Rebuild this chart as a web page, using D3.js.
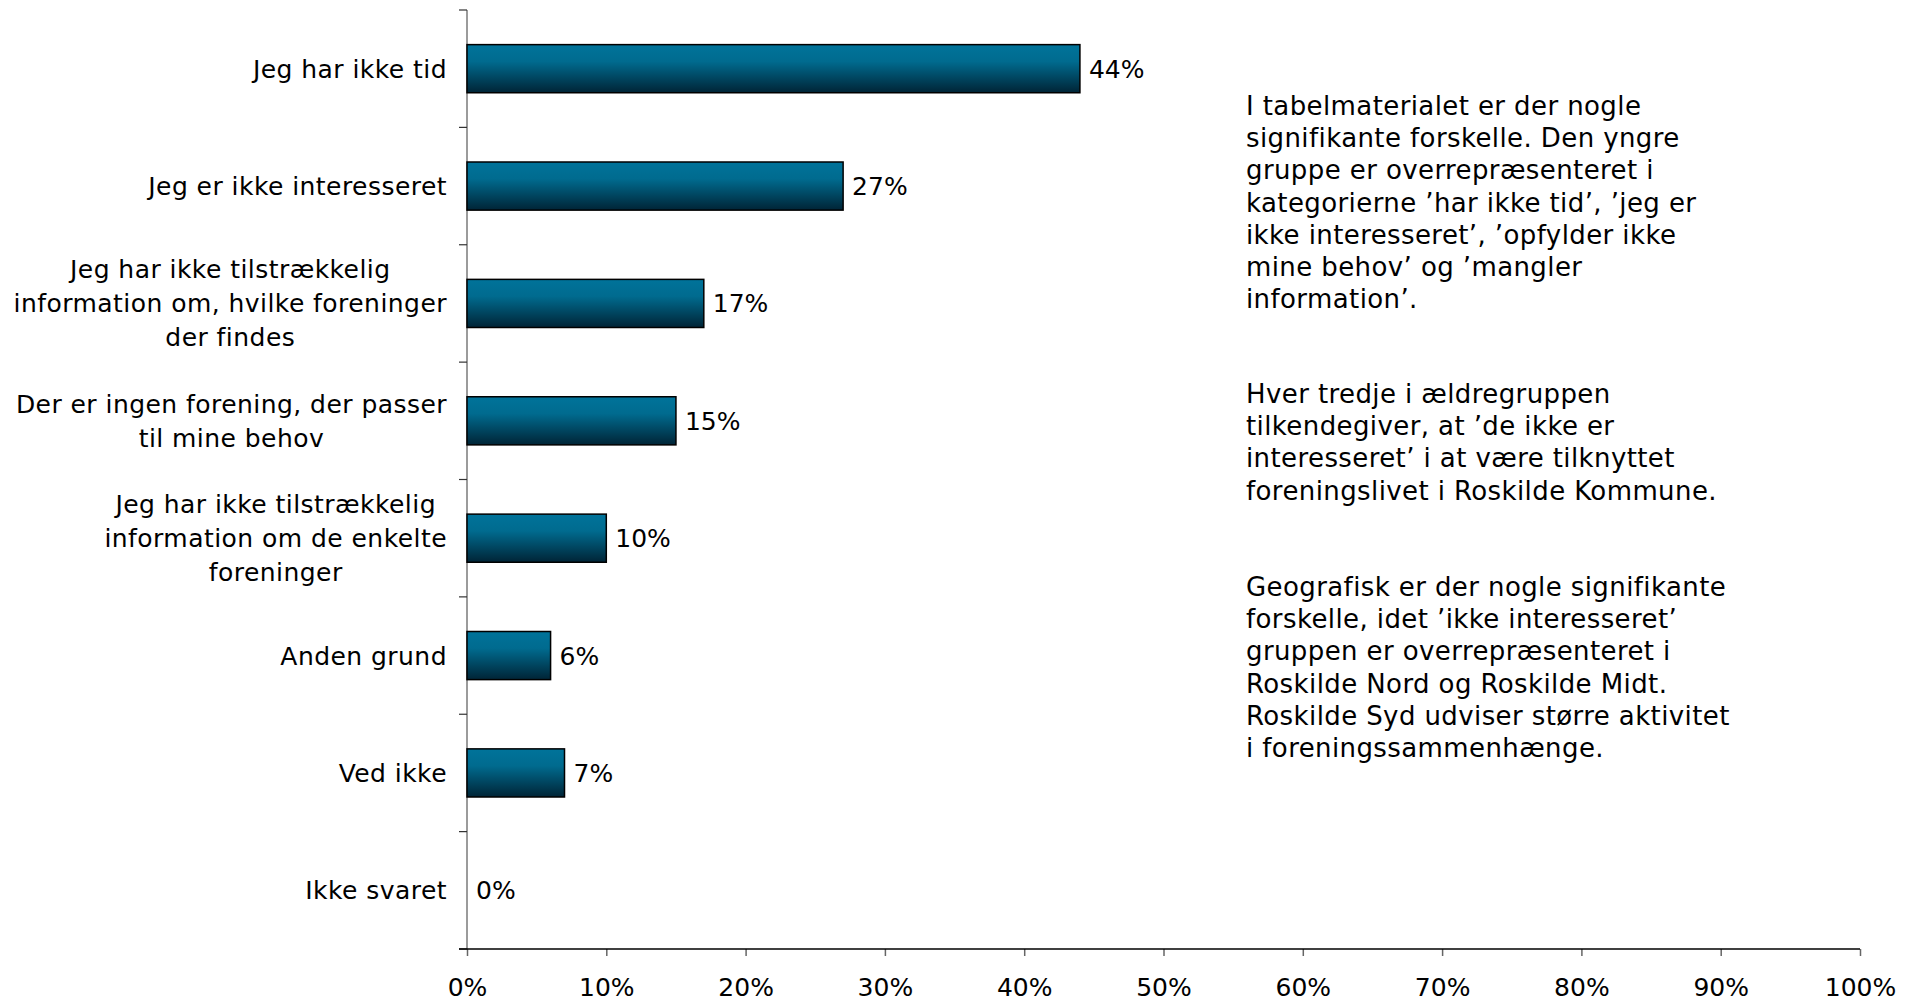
<!DOCTYPE html>
<html lang="da">
<head>
    <meta charset="UTF-8">
    <title>Hvorfor ikke medlem af en forening</title>
    <style type="text/css">
        body {
            margin: 0;
            background: #fff;
        }
        svg {
            display: block;
            font-family: "DejaVu Sans", Verdana, sans-serif;
        }
        .cat-label, .val-label {
            fill: #000;
            font-size: 25px;
        }
        .note {
            fill: #000;
            font-size: 26px;
            letter-spacing: 0.4px;
        }
        .x-axis text {
            font-size: 25px;
            fill: #000;
        }
    </style>
</head>
<body>
    <div id="chart"></div>
    <script src="https://cdnjs.cloudflare.com/ajax/libs/d3/7.8.5/d3.min.js"></script>
    <script type="text/javascript">
        // categories (each label split into its lines) and shares
        var categories = [
            ["Jeg har ikke tid"],
            ["Jeg er ikke interesseret"],
            ["Jeg har ikke tilstrækkelig", "information om, hvilke foreninger", "der findes"],
            ["Der er ingen forening, der passer", "til mine behov"],
            ["Jeg har ikke tilstrækkelig", "information om de enkelte", "foreninger"],
            ["Anden grund"],
            ["Ved ikke"],
            ["Ikke svaret"]
        ];
        var values = [0.44, 0.27, 0.17, 0.15, 0.10, 0.06, 0.07, 0.00];
        var xTicks = [0, 0.1, 0.2, 0.3, 0.4, 0.5, 0.6, 0.7, 0.8, 0.9, 1.0];

        var notes = [
            ["I tabelmaterialet er der nogle",
             "signifikante forskelle. Den yngre",
             "gruppe er overrepræsenteret i",
             "kategorierne ’har ikke tid’, ’jeg er",
             "ikke interesseret’, ’opfylder ikke",
             "mine behov’ og ’mangler",
             "information’."],
            ["Hver tredje i ældregruppen",
             "tilkendegiver, at ’de ikke er",
             "interesseret’ i at være tilknyttet",
             "foreningslivet i Roskilde Kommune."],
            ["Geografisk er der nogle signifikante",
             "forskelle, idet ’ikke interesseret’",
             "gruppen er overrepræsenteret i",
             "Roskilde Nord og Roskilde Midt.",
             "Roskilde Syd udviser større aktivitet",
             "i foreningssammenhænge."]
        ];
        var noteTop = [115, 403, 596];

        var width = 1918,
            height = 1002;
        var plotLeft = 467,
            plotRight = 1860,
            plotTop = 10,
            plotBottom = 949;

        var svg = d3.select("#chart")
            .append("svg")
            .attr("width", width)
            .attr("height", height);

        var defs = svg.append("defs");
        var grad = defs.append("linearGradient")
            .attr("id", "barFill")
            .attr("x1", 0).attr("y1", 0)
            .attr("x2", 0).attr("y2", 1);
        grad.append("stop").attr("offset", "0%").attr("stop-color", "#00739a");
        grad.append("stop").attr("offset", "35%").attr("stop-color", "#006b8f");
        grad.append("stop").attr("offset", "100%").attr("stop-color", "#002436");

        var idx = d3.range(categories.length);

        var x = d3.scaleLinear()
            .domain([0, 1])
            .range([plotLeft, plotRight]);

        var y = d3.scaleBand()
            .domain(idx)
            .range([plotTop, plotBottom])
            .padding(0);

        var step = y.step();
        var barH = step * 0.41;

        // category axis: line plus ticks at band boundaries
        var yAxis = svg.append("g").attr("class", "y-axis");
        yAxis.append("line")
            .attr("x1", plotLeft).attr("x2", plotLeft)
            .attr("y1", plotTop).attr("y2", plotBottom)
            .attr("stroke", "#7a7a7a")
            .attr("stroke-width", 1.5);
        yAxis.selectAll(".ytick")
            .data(d3.range(categories.length + 1))
            .enter().append("line")
            .attr("class", "ytick")
            .attr("x1", plotLeft - 8).attr("x2", plotLeft)
            .attr("y1", d => plotTop + d * step)
            .attr("y2", d => plotTop + d * step)
            .attr("stroke", "#333")
            .attr("stroke-width", 1.2);

        // value axis
        var xAxis = svg.append("g")
            .attr("class", "x-axis")
            .attr("transform", "translate(0," + plotBottom + ")")
            .call(d3.axisBottom(x)
                .tickValues(xTicks)
                .tickFormat(d3.format(".0%"))
                .tickSize(7)
                .tickPadding(22));
        xAxis.attr("font-family", null).attr("font-size", null);
        xAxis.select(".domain").remove();
        xAxis.selectAll(".tick line")
            .attr("stroke", "#666")
            .attr("stroke-width", 1.5);
        svg.append("line")
            .attr("x1", plotLeft - 8).attr("x2", plotRight)
            .attr("y1", plotBottom).attr("y2", plotBottom)
            .attr("stroke", "#000")
            .attr("stroke-width", 1.5);

        // bars
        svg.selectAll(".bar")
            .data(idx)
            .enter().append("rect")
            .attr("class", "bar")
            .attr("x", x(0))
            .attr("y", i => y(i) + (step - barH) / 2)
            .attr("width", i => x(values[i]) - x(0))
            .attr("height", barH)
            .attr("fill", "url(#barFill)")
            .attr("stroke", "#000")
            .attr("stroke-width", 1.5);

        // value labels
        svg.selectAll(".val-label")
            .data(idx)
            .enter().append("text")
            .attr("class", "val-label")
            .attr("x", i => x(values[i]) + 9)
            .attr("y", i => y(i) + step / 2 + 9)
            .text(i => d3.format(".0%")(values[i]));

        // category labels, block centred and right-aligned against the axis
        var lineGap = 34;
        var labels = svg.selectAll(".cat-label")
            .data(idx)
            .enter().append("text")
            .attr("class", "cat-label")
            .attr("text-anchor", "middle")
            .attr("letter-spacing", "0.45px");
        labels.each(function(i) {
            var t = d3.select(this);
            var lines = categories[i];
            var cy = y(i) + step / 2 + 9 - (lines.length - 1) * lineGap / 2;
            lines.forEach(function(s, k) {
                t.append("tspan").attr("y", cy + k * lineGap).text(s);
            });
            var maxW = d3.max(t.selectAll("tspan").nodes(), n => n.getComputedTextLength());
            t.selectAll("tspan").attr("x", plotLeft - 20 - maxW / 2);
        });

        // commentary on the right
        var noteX = 1246,
            noteGap = 32.2;
        notes.forEach(function(par, p) {
            svg.append("text")
                .attr("class", "note")
                .selectAll("tspan")
                .data(par)
                .enter().append("tspan")
                .attr("x", noteX)
                .attr("y", (d, k) => noteTop[p] + k * noteGap)
                .text(d => d);
        });
    </script>
</body>
</html>
